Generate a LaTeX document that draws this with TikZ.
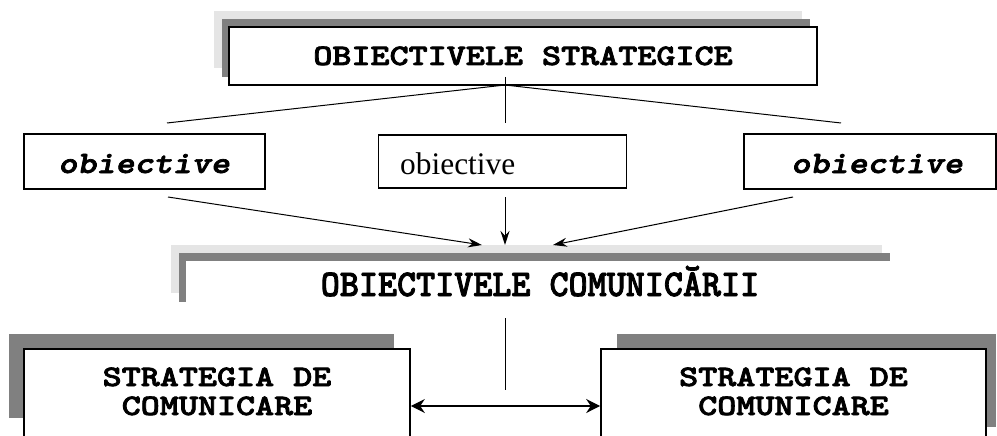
\documentclass[tikz,border=0pt]{standalone}
\usepackage{graphicx}
\usepackage{fontspec}
\setmainfont{Liberation Serif}
\newfontfamily\courfont{lmmonolt10-bold}[Extension=.otf,FakeBold=2.2]
\newfontfamily\courslfont{lmmonolt10-boldoblique}[Extension=.otf,FakeBold=2.2]
\usetikzlibrary{arrows.meta}
\definecolor{shlight}{gray}{0.9}
\definecolor{shdark}{gray}{0.5}
\newcommand{\capsq}[1]{\scalebox{1}[0.82]{#1}}
\begin{document}
\begin{tikzpicture}[x=1pt,y=-1pt,
  boxw/.style={draw=black,line width=1.6pt,fill=white,inner sep=0pt},
  plainw/.style={fill=white,inner sep=0pt},
  captxt/.style={font=\courfont\fontsize{36.3}{40}\selectfont,inner sep=0pt,anchor=base},
  itxt/.style={font=\courslfont\fontsize{36.3}{40}\selectfont,inner sep=0pt,anchor=base},
  rtxt/.style={font=\fontsize{31.4}{36}\selectfont,inner sep=0pt,anchor=base west},
  conn/.style={line width=1pt},
  arr/.style={line width=1pt,-{Stealth[length=14pt,width=9pt]}},
  darr/.style={line width=1.2pt,{Stealth[length=14pt,width=14pt]}-{Stealth[length=14pt,width=14pt]}},
]
\useasboundingbox (0,0) rectangle (997,436);
\clip (0,0) rectangle (997,436);
\fill[white] (0,0) rectangle (997,436);

% top box
\fill[shlight] (214,11) rectangle (802,68);
\fill[shdark] (222,19) rectangle (810,77);
\node[boxw,minimum width=588pt,minimum height=58pt] (top) at (523,56) {};
\node[captxt] (toptxt) at (523,65) {\capsq{OBIECTIVELE STRATEGICE}};

% middle row
\node[boxw,minimum width=241pt,minimum height=55pt] (ol) at (144.5,161.5) {};
\node[itxt] (oltxt) at (144,173) {\scalebox{1}[0.86]{obiective}};
\node[boxw,minimum width=248pt,minimum height=53pt] (om) at (502.5,161.5) {};
\node[rtxt] (omtxt) at (400,175) {obiective};
\node[boxw,minimum width=252pt,minimum height=55pt] (or) at (870,161.5) {};
\node[itxt] (ortxt) at (877,173) {\scalebox{1}[0.86]{obiective}};

% communication objectives box
\fill[shlight] (171,245) rectangle (882,293);
\fill[shdark] (179,253) rectangle (890,302);
\node[plainw,minimum width=711pt,minimum height=57pt] (mid) at (541.5,289.5) {};
\node[captxt] (midtxt) at (540,296) {\scalebox{1}[1.04]{OBIECTIVELE COMUNICĂRII}};

% bottom boxes
\fill[shdark] (9,334) rectangle (394,418);
\node[boxw,minimum width=386pt,minimum height=121pt] (bl) at (217,409.5) {};
\node[captxt] (bl1) at (217,386) {\capsq{STRATEGIA DE}};
\node[captxt] (bl2) at (217,415) {\capsq{COMUNICARE}};
\fill[shdark] (617,334) rectangle (996,427);
\node[boxw,minimum width=385pt,minimum height=121pt] (br) at (793.5,409.5) {};
\node[captxt] (br1) at (793.5,386) {\capsq{STRATEGIA DE}};
\node[captxt] (br2) at (793.5,415) {\capsq{COMUNICARE}};

% connectors
\coordinate (jt) at (505,77);
\coordinate (j) at (505,85);
\coordinate (eL) at (167,123);
\coordinate (eM) at (505,123);
\coordinate (eR) at (841,123);
\draw[conn] (jt) -- (eM);
\draw[conn] (eL) -- (j) -- (eR);

\coordinate (sL) at (168,197); \coordinate (tL) at (482,245);
\coordinate (sM) at (505,197); \coordinate (tM) at (505,245);
\coordinate (sR) at (793,197); \coordinate (tR) at (553,245);
\draw[arr] (sL) -- (tL);
\draw[arr] (sM) -- (tM);
\draw[arr] (sR) -- (tR);

\coordinate (vt) at (505,318); \coordinate (vb) at (505,390);
\draw[conn] (vt) -- (vb);
\draw[darr] (bl.east |- 0,406) -- (br.west |- 0,406);
\end{tikzpicture}
\end{document}
